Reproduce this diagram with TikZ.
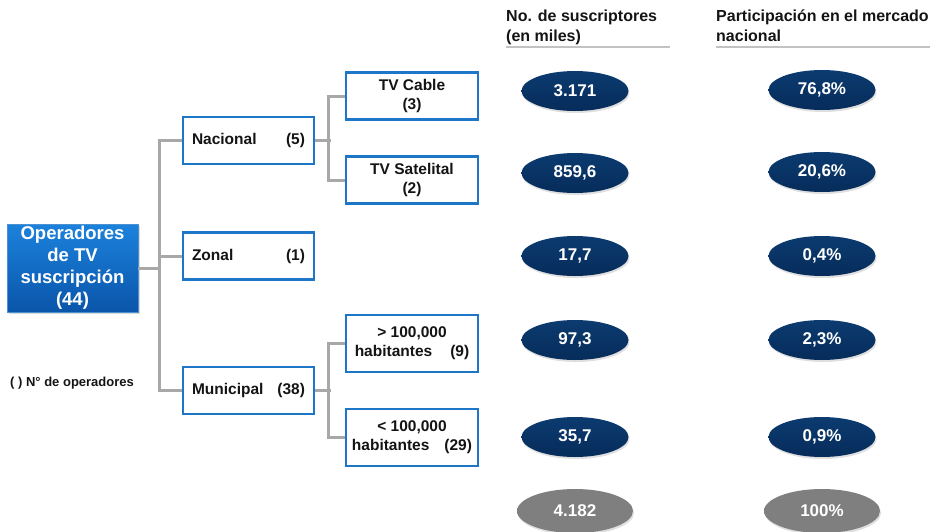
\documentclass[tikz,border=0pt]{standalone}
\usepackage{fontspec}
\setmainfont{Liberation Sans}
\usetikzlibrary{shapes,positioning,calc,shadows}
\definecolor{boxblue}{HTML}{1E76C6}
\definecolor{topblue}{HTML}{1C82DC}
\definecolor{botblue}{HTML}{0A55AA}
\definecolor{navytop}{HTML}{0C3B70}
\definecolor{navybot}{HTML}{062C5A}
\definecolor{linegray}{HTML}{A8A8A8}
\definecolor{totgray}{HTML}{7F7F7F}
\definecolor{txt}{HTML}{141414}

\begin{document}
\begin{tikzpicture}[
    x=1pt,y=-1pt,
    conn/.style={draw=linegray,line width=3pt},
    rulehdr/.style={draw=linegray!70,line width=1.4pt},
    root/.style={rectangle,top color=topblue,bottom color=botblue,draw=boxblue!80,
        minimum width=131pt,minimum height=88pt,inner sep=0pt,align=center,text=white,
        font=\fontsize{18.5}{22}\selectfont\bfseries,
        drop shadow={opacity=0.3,shadow xshift=1.5pt,shadow yshift=-1.5pt}},
    lvlone/.style={rectangle,draw=boxblue,line width=2.3pt,fill=white,inner sep=0pt,
        minimum width=131pt,minimum height=47pt,text width=113pt,align=left,text=txt,
        font=\fontsize{15.5}{19}\selectfont\bfseries},
    lvltwo/.style={rectangle,draw=boxblue,line width=2.3pt,fill=white,inner sep=0pt,
        minimum width=132pt,minimum height=47pt,align=center,text=txt,
        font=\fontsize{15.5}{19}\selectfont\bfseries},
    dato/.style={ellipse,top color=navytop,bottom color=navybot,inner sep=0pt,
        minimum width=107pt,minimum height=40pt,text=white,
        font=\fontsize{17}{20}\selectfont\bfseries,
        drop shadow={opacity=0.25,shadow xshift=1pt,shadow yshift=-2pt}},
    total/.style={dato,top color=totgray,bottom color=totgray,minimum width=116pt,minimum height=44pt},
    hdr/.style={anchor=north west,inner sep=0pt,align=left,text=txt,
        font=\fontsize{16}{20}\selectfont\bfseries}
    ]
        \useasboundingbox (0,0) rectangle (932,531);

        % arbol de operadores
        \node [root](op) at (72.5,268) {Operadores\\de TV\\suscripción\\(44)};
        \node [lvlone](nac) at (248.5,140.5) {Nacional\hfill(5)};
        \node [lvlone](zon) at (248.5,256) {Zonal\hfill(1)};
        \node [lvlone](mun) at (248.5,390.5) {Municipal\hfill(38)};
        \node [lvltwo](cable) at (412,96) {TV Cable\\(3)};
        \node [lvltwo](sat) at (412,180) {TV Satelital\\(2)};
        \node [lvltwo,minimum height=57pt](mas) at (412,343.5) {> 100,000\\habitantes\hspace{18pt}(9)};
        \node [lvltwo,minimum height=57pt](menos) at (412,437.5) {< 100,000\\habitantes\hspace{15pt}(29)};
        \node [anchor=west,inner sep=0pt,text=txt,font=\fontsize{13}{15}\selectfont\bfseries](ley) at (10,383) {( ) N° de operadores};

        \draw [conn] (op.east) -- ++(23,0);
        \draw [conn] (nac.west) -- ++(-22,0) |- (mun.west);
        \draw [conn] (zon.west) -- ++(-22,0);
        \draw [conn] (nac.east) -- ++(16,0);
        \draw [conn] (cable.west) -- ++(-16,0) |- (sat.west);
        \draw [conn] (mun.east) -- ++(16,0);
        \draw [conn] (mas.west) -- ++(-16,0) |- (menos.west);

        % columnas de datos
        \node [hdr](hsus) at (506,10) {No. de suscriptores\\(en miles)};
        \node [hdr](hpar) at (716,10) {Participación en el mercado\\nacional};
        \draw [rulehdr] (hsus.north west) ++(0,37) -- ++(164,0);
        \draw [rulehdr] (hpar.north west) ++(0,37) -- ++(214,0);

        \node [dato](s1) at (575,91) {3.171};
        \node [dato](s2) at (575,173) {859,6};
        \node [dato](s3) at (575,256) {17,7};
        \node [dato](s4) at (575,340) {97,3};
        \node [dato](s5) at (575,437) {35,7};
        \node [total](st) at (575,511) {4.182};

        \node [dato](p1) at (822,90) {76,8\%};
        \node [dato](p2) at (822,172) {20,6\%};
        \node [dato](p3) at (822,256) {0,4\%};
        \node [dato](p4) at (822,340) {2,3\%};
        \node [dato](p5) at (822,437) {0,9\%};
        \node [total](pt) at (822,511) {100\%};
\end{tikzpicture}
\end{document}
